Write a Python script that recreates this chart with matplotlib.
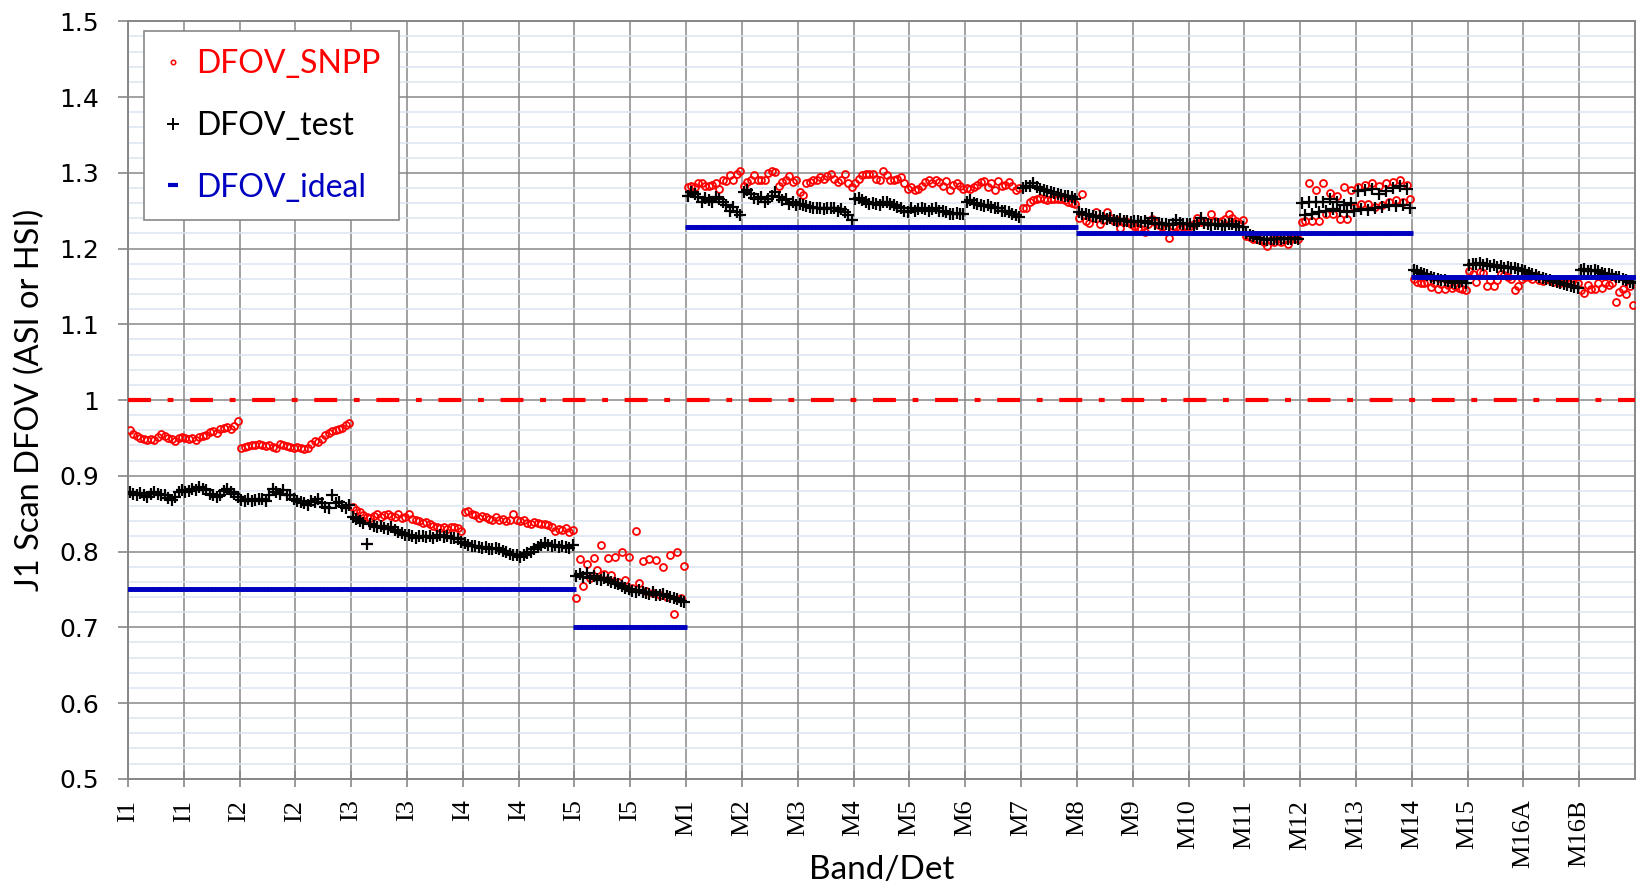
import matplotlib
matplotlib.use("Agg")
import matplotlib.pyplot as plt
from matplotlib import font_manager
from matplotlib.lines import Line2D
from matplotlib.ticker import MultipleLocator, FuncFormatter

# I bands carry 32 detectors each, M bands 16 each
i_bands = ["I1", "I2", "I3", "I4", "I5"]
m_bands = ["M1", "M2", "M3", "M4", "M5", "M6", "M7", "M8", "M9", "M10",
           "M11", "M12", "M13", "M14", "M15", "M16A", "M16B"]
tick_labels = ["I1", "I1", "I2", "I2", "I3", "I3", "I4", "I4", "I5", "I5"] + m_bands

# DFOV_SNPP, one row per I band
snpp_i = [
    [0.960, 0.955, 0.953, 0.950, 0.948, 0.947, 0.948, 0.947, 0.951, 0.955, 0.953, 0.950, 0.948, 0.946, 0.950, 0.951,
     0.950, 0.949, 0.950, 0.947, 0.951, 0.952, 0.954, 0.958, 0.959, 0.956, 0.962, 0.963, 0.964, 0.962, 0.966, 0.972],
    [0.937, 0.938, 0.939, 0.940, 0.941, 0.942, 0.940, 0.939, 0.940, 0.938, 0.937, 0.942, 0.941, 0.939, 0.938, 0.937,
     0.938, 0.937, 0.935, 0.937, 0.942, 0.946, 0.944, 0.949, 0.954, 0.957, 0.959, 0.960, 0.962, 0.963, 0.967, 0.970],
    [0.859, 0.855, 0.852, 0.848, 0.846, 0.844, 0.847, 0.849, 0.846, 0.848, 0.850, 0.847, 0.845, 0.849, 0.844, 0.846,
     0.849, 0.843, 0.842, 0.840, 0.838, 0.839, 0.836, 0.834, 0.832, 0.831, 0.833, 0.830, 0.832, 0.833, 0.831, 0.827],
    [0.852, 0.854, 0.849, 0.848, 0.844, 0.847, 0.845, 0.843, 0.842, 0.846, 0.841, 0.843, 0.840, 0.842, 0.849, 0.842,
     0.840, 0.841, 0.838, 0.836, 0.839, 0.838, 0.837, 0.836, 0.835, 0.833, 0.827, 0.830, 0.829, 0.831, 0.826, 0.828],
    [0.739, 0.790, 0.755, 0.783, 0.765, 0.792, 0.776, 0.808, 0.771, 0.791, 0.769, 0.793, 0.760, 0.800, 0.762, 0.793,
     0.752, 0.827, 0.758, 0.787, 0.748, 0.790, 0.745, 0.789, 0.743, 0.780, 0.740, 0.795, 0.717, 0.799, 0.738, 0.781],
]

# DFOV_test, one row per I band
test_i = [
    [0.879, 0.876, 0.874, 0.877, 0.875, 0.872, 0.876, 0.878, 0.876, 0.875, 0.874, 0.871, 0.868, 0.872, 0.879, 0.881,
     0.878, 0.880, 0.883, 0.881, 0.885, 0.883, 0.881, 0.876, 0.874, 0.872, 0.875, 0.880, 0.883, 0.878, 0.876, 0.872],
    [0.868, 0.867, 0.869, 0.867, 0.868, 0.869, 0.870, 0.867, 0.874, 0.883, 0.878, 0.876, 0.881, 0.874, 0.875, 0.870,
     0.867, 0.866, 0.864, 0.861, 0.867, 0.866, 0.870, 0.864, 0.859, 0.857, 0.875, 0.864, 0.866, 0.860, 0.858, 0.862],
    [0.846, 0.843, 0.840, 0.838, 0.810, 0.836, 0.834, 0.832, 0.834, 0.831, 0.830, 0.832, 0.828, 0.826, 0.824, 0.822,
     0.822, 0.820, 0.818, 0.820, 0.821, 0.819, 0.820, 0.818, 0.820, 0.822, 0.819, 0.820, 0.818, 0.818, 0.816, 0.812],
    [0.811, 0.809, 0.807, 0.807, 0.806, 0.805, 0.806, 0.804, 0.803, 0.805, 0.803, 0.801, 0.799, 0.797, 0.796, 0.795,
     0.793, 0.795, 0.798, 0.800, 0.803, 0.806, 0.809, 0.811, 0.808, 0.807, 0.809, 0.806, 0.807, 0.806, 0.805, 0.809],
    [0.768, 0.770, 0.766, 0.772, 0.765, 0.768, 0.764, 0.763, 0.765, 0.762, 0.760, 0.758, 0.757, 0.755, 0.752, 0.750,
     0.748, 0.747, 0.749, 0.746, 0.745, 0.744, 0.746, 0.743, 0.742, 0.744, 0.741, 0.740, 0.738, 0.737, 0.735, 0.733],
]

# DFOV_SNPP, one row per M band
snpp_m = [
    [1.281, 1.283, 1.281, 1.286, 1.286, 1.283, 1.283, 1.284, 1.287, 1.279, 1.290, 1.289, 1.297, 1.290, 1.298, 1.302],
    [1.283, 1.288, 1.290, 1.297, 1.291, 1.290, 1.290, 1.300, 1.302, 1.301, 1.283, 1.288, 1.291, 1.296, 1.288, 1.291],
    [1.275, 1.271, 1.286, 1.288, 1.290, 1.291, 1.294, 1.292, 1.296, 1.298, 1.292, 1.288, 1.291, 1.298, 1.286, 1.281],
    [1.286, 1.292, 1.297, 1.299, 1.298, 1.299, 1.292, 1.291, 1.302, 1.297, 1.291, 1.290, 1.292, 1.294, 1.286, 1.279],
    [1.281, 1.277, 1.279, 1.282, 1.288, 1.290, 1.286, 1.290, 1.288, 1.283, 1.289, 1.277, 1.284, 1.286, 1.283, 1.279],
    [1.280, 1.279, 1.281, 1.284, 1.288, 1.289, 1.281, 1.286, 1.277, 1.289, 1.283, 1.284, 1.288, 1.283, 1.277, 1.280],
    [1.253, 1.253, 1.261, 1.264, 1.266, 1.267, 1.266, 1.264, 1.266, 1.265, 1.266, 1.265, 1.264, 1.261, 1.260, 1.259],
    [1.240, 1.272, 1.236, 1.234, 1.241, 1.248, 1.233, 1.238, 1.248, 1.240, 1.236, 1.238, 1.227, 1.236, 1.235, 1.233],
    [1.230, 1.227, 1.226, 1.222, 1.232, 1.239, 1.235, 1.231, 1.228, 1.226, 1.214, 1.230, 1.228, 1.226, 1.228, 1.230],
    [1.230, 1.233, 1.240, 1.235, 1.237, 1.235, 1.245, 1.236, 1.235, 1.237, 1.239, 1.245, 1.240, 1.236, 1.234, 1.238],
    [1.217, 1.215, 1.213, 1.212, 1.211, 1.209, 1.204, 1.211, 1.209, 1.212, 1.209, 1.211, 1.206, 1.213, 1.214, 1.213],
    [1.235, 1.236, 1.287, 1.237, 1.277, 1.236, 1.287, 1.245, 1.274, 1.246, 1.270, 1.239, 1.281, 1.239, 1.277, 1.255],
    [1.281, 1.259, 1.284, 1.259, 1.286, 1.255, 1.283, 1.257, 1.286, 1.261, 1.288, 1.264, 1.291, 1.261, 1.284, 1.265],
    [1.160, 1.156, 1.154, 1.154, 1.156, 1.149, 1.154, 1.147, 1.153, 1.147, 1.152, 1.148, 1.151, 1.148, 1.147, 1.145],
    [1.171, 1.167, 1.156, 1.169, 1.168, 1.151, 1.159, 1.150, 1.159, 1.167, 1.165, 1.162, 1.160, 1.145, 1.150, 1.160],
    [1.163, 1.162, 1.160, 1.164, 1.158, 1.157, 1.160, 1.159, 1.156, 1.158, 1.155, 1.157, 1.154, 1.156, 1.153, 1.155],
    [1.145, 1.141, 1.152, 1.147, 1.147, 1.154, 1.148, 1.154, 1.152, 1.154, 1.129, 1.143, 1.147, 1.140, 1.150, 1.125],
]

# DFOV_test, one row per M band
test_m = [
    [1.270, 1.275, 1.272, 1.268, 1.261, 1.267, 1.264, 1.261, 1.268, 1.266, 1.261, 1.257, 1.250, 1.255, 1.248, 1.244],
    [1.275, 1.277, 1.272, 1.267, 1.266, 1.268, 1.262, 1.266, 1.270, 1.275, 1.268, 1.264, 1.266, 1.259, 1.262, 1.258],
    [1.259, 1.257, 1.256, 1.255, 1.253, 1.253, 1.253, 1.252, 1.253, 1.253, 1.253, 1.250, 1.252, 1.248, 1.244, 1.238],
    [1.266, 1.267, 1.264, 1.261, 1.259, 1.260, 1.259, 1.258, 1.261, 1.262, 1.259, 1.257, 1.255, 1.253, 1.250, 1.248],
    [1.253, 1.250, 1.252, 1.253, 1.252, 1.250, 1.252, 1.253, 1.250, 1.249, 1.248, 1.246, 1.246, 1.247, 1.246, 1.246],
    [1.261, 1.264, 1.260, 1.259, 1.258, 1.256, 1.257, 1.255, 1.253, 1.253, 1.250, 1.249, 1.248, 1.246, 1.244, 1.242],
    [1.280, 1.283, 1.283, 1.286, 1.281, 1.279, 1.277, 1.276, 1.275, 1.274, 1.272, 1.271, 1.270, 1.269, 1.268, 1.266],
    [1.248, 1.246, 1.245, 1.244, 1.243, 1.242, 1.243, 1.240, 1.239, 1.240, 1.238, 1.237, 1.239, 1.237, 1.236, 1.235],
    [1.237, 1.236, 1.235, 1.236, 1.234, 1.240, 1.232, 1.234, 1.233, 1.232, 1.231, 1.233, 1.238, 1.234, 1.232, 1.233],
    [1.232, 1.230, 1.233, 1.240, 1.234, 1.232, 1.231, 1.233, 1.232, 1.230, 1.231, 1.233, 1.232, 1.230, 1.228, 1.229],
    [1.220, 1.218, 1.216, 1.214, 1.213, 1.212, 1.211, 1.212, 1.213, 1.212, 1.213, 1.214, 1.212, 1.213, 1.214, 1.213],
    [1.260, 1.244, 1.261, 1.246, 1.261, 1.248, 1.262, 1.250, 1.266, 1.252, 1.262, 1.250, 1.258, 1.248, 1.260, 1.249],
    [1.276, 1.252, 1.277, 1.251, 1.278, 1.253, 1.272, 1.255, 1.276, 1.258, 1.280, 1.256, 1.282, 1.257, 1.278, 1.254],
    [1.172, 1.170, 1.168, 1.167, 1.165, 1.162, 1.161, 1.160, 1.159, 1.158, 1.157, 1.156, 1.155, 1.156, 1.157, 1.154],
    [1.178, 1.180, 1.179, 1.181, 1.178, 1.179, 1.177, 1.178, 1.176, 1.177, 1.175, 1.176, 1.175, 1.174, 1.173, 1.172],
    [1.170, 1.168, 1.166, 1.165, 1.163, 1.161, 1.160, 1.159, 1.157, 1.156, 1.155, 1.153, 1.152, 1.150, 1.149, 1.148],
    [1.172, 1.173, 1.171, 1.170, 1.172, 1.170, 1.168, 1.167, 1.166, 1.165, 1.163, 1.162, 1.160, 1.158, 1.156, 1.155],
]

# DFOV_ideal per band
ideal_i = [0.75, 0.75, 0.75, 0.75, 0.70]
ideal_m = [1.228, 1.228, 1.228, 1.228, 1.228, 1.228, 1.228,
           1.220, 1.220, 1.220, 1.220, 1.220, 1.220,
           1.163, 1.163, 1.163, 1.163]

reference_level = 1.0

N_I = 32
N_M = 16

# --- flatten per-detector series onto one category axis
xs, snpp, test, ideal = [], [], [], []
pos = 0
for b in range(len(i_bands)):
    for j in range(N_I):
        xs.append(pos + 0.5)
        snpp.append(snpp_i[b][j])
        test.append(test_i[b][j])
        ideal.append(ideal_i[b])
        pos += 1
for b in range(len(m_bands)):
    for j in range(N_M):
        xs.append(pos + 0.5)
        snpp.append(snpp_m[b][j])
        test.append(test_m[b][j])
        ideal.append(ideal_m[b])
        pos += 1
n_total = pos

names = {f.name for f in font_manager.fontManager.ttflist}
label_font = "Liberation Sans Narrow" if "Liberation Sans Narrow" in names else "Lato"

fig = plt.figure(figsize=(16.4, 8.89), dpi=100)
ax = fig.add_axes([0.078, 0.124, 0.919, 0.852])

grid_grey = "#878787"
ax.set_xlim(0, n_total)
ax.set_ylim(0.5, 1.5)

ax.yaxis.set_major_locator(MultipleLocator(0.1))
ax.yaxis.set_minor_locator(MultipleLocator(0.02))
ax.yaxis.set_major_formatter(FuncFormatter(lambda v, _: f"{v:g}"))
ax.set_xticks(range(0, n_total, 16))
ax.set_xticklabels(tick_labels, rotation=90, family="Liberation Serif", fontsize=19)

ax.grid(which="major", axis="both", color=grid_grey, lw=1.1, zorder=0)
ax.grid(which="minor", axis="y", color="#dbe4f0", lw=1.1, zorder=0)
ax.set_axisbelow(True)
for s in ax.spines.values():
    s.set_color(grid_grey)
    s.set_linewidth(1.4)

ax.tick_params(axis="x", which="major", direction="inout", length=12, width=1.2,
               color=grid_grey, pad=9)
ax.tick_params(axis="y", which="major", direction="out", length=7, width=1.2,
               color=grid_grey, pad=14, labelsize=18)
ax.tick_params(axis="y", which="minor", length=0)
for lab in ax.get_yticklabels():
    lab.set_family("DejaVu Sans")

ax.plot(xs, snpp, ls="none", marker="o", ms=5, mfc="none", mec="#ff0000", mew=1.3, zorder=3)
ax.plot(xs, test, ls="none", marker="+", ms=9, mec="black", mew=1.6, zorder=4)
ax.plot(xs, ideal, ls="none", marker="_", ms=5, mec="#0000c0", mew=3.5, zorder=5)
ax.axhline(reference_level, color="#ff0000", lw=3, ls=(0, (5.5, 4.0, 1.4, 4.0)), zorder=5)

ax.set_xlabel("Band/Det", family=label_font, fontsize=24)
ax.xaxis.label.set_va("center")
ax.xaxis.set_label_coords(0.5, -0.121)
ax.set_ylabel("J1 Scan DFOV (ASI or HSI)", family=label_font, fontsize=23.5, labelpad=10)

handles = [
    Line2D([], [], ls="none", marker="o", ms=3.2, mfc="none", mec="#ff0000", mew=1.1),
    Line2D([], [], ls="none", marker="+", ms=9, mec="black", mew=1.4),
    Line2D([], [], ls="none", marker="_", ms=7, mec="#0000c0", mew=3.0),
]
leg = ax.legend(handles, ["DFOV_SNPP", "DFOV_test", "DFOV_ideal"],
                loc="upper left", bbox_to_anchor=(0.0106, 0.987), borderaxespad=0,
                fancybox=False, framealpha=1, edgecolor=grid_grey,
                prop={"family": label_font, "size": 23},
                handlelength=0.7, handletextpad=0.4, labelspacing=1.0,
                borderpad=0.55)
leg.get_frame().set_linewidth(1.2)
for txt, col in zip(leg.get_texts(), ["#ff0000", "black", "#0000c0"]):
    txt.set_color(col)

fig.savefig("out.png", dpi=100)
